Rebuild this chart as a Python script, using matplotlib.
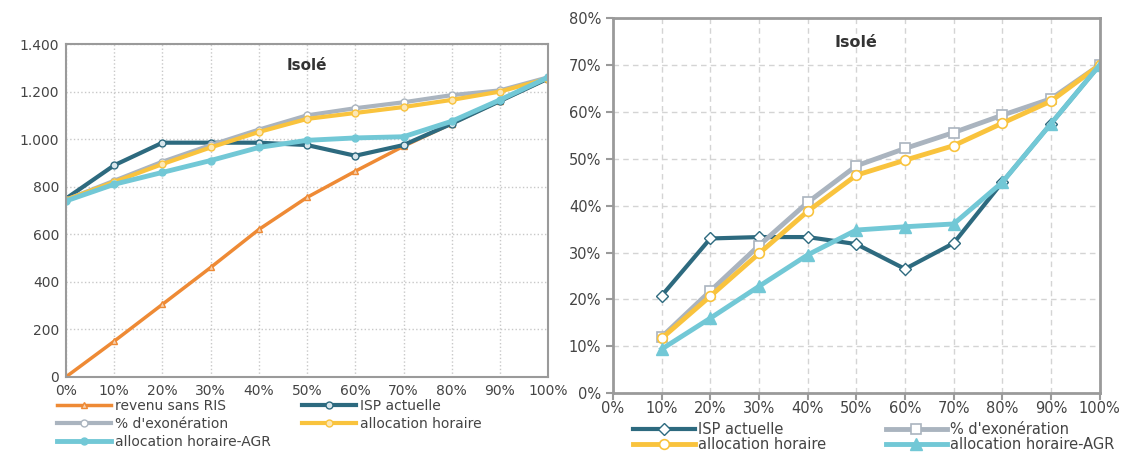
#! /usr/bin/env python3

import matplotlib
matplotlib.use('Agg')
import matplotlib.pyplot as plt

# left chart: monthly income (EUR) by work share
X_LEFT = [0, 10, 20, 30, 40, 50, 60, 70, 80, 90, 100]
REVENU_SANS_RIS = [0, 150, 305, 460, 620, 755, 865, 970, 1065, 1160, 1255]
ISP_ACTUELLE_L = [750, 890, 985, 985, 985, 975, 930, 975, 1065, 1160, 1255]
EXONERATION_L = [745, 825, 905, 975, 1040, 1100, 1130, 1155, 1185, 1205, 1260]
ALLOC_HORAIRE_L = [745, 820, 895, 965, 1030, 1085, 1110, 1135, 1165, 1200, 1255]
ALLOC_AGR_L = [740, 810, 860, 910, 965, 995, 1005, 1010, 1075, 1165, 1260]
Y_TICKS_LEFT = [0, 200, 400, 600, 800, 1000, 1200, 1400]
Y_LABELS_LEFT = ['0', '200', '400', '600', '800', '1.000', '1.200', '1.400']

# right chart: share of gain (%) by work share
X_RIGHT = [10, 20, 30, 40, 50, 60, 70, 80, 90, 100]
ISP_ACTUELLE_R = [20.8, 33.0, 33.3, 33.3, 31.8, 26.5, 32.0, 45.0, 57.5, 70.0]
EXONERATION_R = [12.0, 21.8, 31.5, 40.7, 48.5, 52.2, 55.6, 59.3, 62.8, 70.0]
ALLOC_HORAIRE_R = [11.7, 20.7, 29.8, 38.8, 46.5, 49.7, 52.8, 57.6, 62.3, 70.0]
ALLOC_AGR_R = [9.4, 16.0, 22.8, 29.5, 34.8, 35.5, 36.1, 45.0, 57.5, 70.0]

X_TICKS = list(range(0, 101, 10))
X_LABELS = ['%d%%' % v for v in X_TICKS]

ORANGE = '#ee8a35'
TEAL = '#2d6a7f'
GREY = '#aab4bf'
YELLOW = '#f9c33d'
CYAN = '#72c8d6'
FRAME = '#9a9a9a'
TXT = '#444444'

plt.rcParams['font.family'] = ['DejaVu Sans']

fig = plt.figure(figsize=(11.29, 4.54), dpi=100)

# ---- left ----
ax1 = fig.add_axes([0.0585, 0.170, 0.427, 0.733])
l_rev, = ax1.plot(X_LEFT, REVENU_SANS_RIS, color=ORANGE, lw=2.5, marker='^', ms=5,
                  mfc='#f6d0ae', mec=ORANGE, label='revenu sans RIS')
l_isp, = ax1.plot(X_LEFT, ISP_ACTUELLE_L, color=TEAL, lw=3, marker='o', ms=5,
                  mfc='#d8e6ec', mec=TEAL, label='ISP actuelle')
l_exo, = ax1.plot(X_LEFT, EXONERATION_L, color=GREY, lw=3, marker='o', ms=5,
                  mfc='white', mec=GREY, label="% d'exonération")
l_alh, = ax1.plot(X_LEFT, ALLOC_HORAIRE_L, color=YELLOW, lw=3, marker='o', ms=5,
                  mfc='#fce7b5', mec=YELLOW, label='allocation horaire')
l_agr, = ax1.plot(X_LEFT, ALLOC_AGR_L, color=CYAN, lw=3.5, marker='o', ms=5,
                  mfc=CYAN, mec=CYAN, label='allocation horaire-AGR')
ax1.set_xlim(0, 100)
ax1.set_ylim(0, 1400)
ax1.set_xticks(X_TICKS)
ax1.set_xticklabels(X_LABELS)
ax1.set_yticks(Y_TICKS_LEFT)
ax1.set_yticklabels(Y_LABELS_LEFT)
ax1.grid(True, ls=':', color='#c8c8c8', lw=1)
ax1.set_axisbelow(True)
ax1.text(50, 1310, 'Isolé', ha='center', va='center', fontsize=11,
         fontweight='bold', color='#333333')
ax1.tick_params(length=0, labelsize=10, colors=TXT, pad=5)
for s in ax1.spines.values():
    s.set_color(FRAME)
    s.set_linewidth(1.5)
# column-major fill, so reorder to read row by row
hl = [l_rev, l_exo, l_agr, l_isp, l_alh]
ax1.legend(handles=hl, labels=[h.get_label() for h in hl],
           loc='upper left', bbox_to_anchor=(-0.03, -0.05), ncol=2,
           frameon=False, fontsize=10, handlelength=3.9, handletextpad=0.3,
           columnspacing=2.2, labelspacing=0.3, labelcolor=TXT,
           borderaxespad=0)

# ---- right ----
ax2 = fig.add_axes([0.543, 0.134, 0.431, 0.826])
r_isp, = ax2.plot(X_RIGHT, ISP_ACTUELLE_R, color=TEAL, lw=3, marker='D', ms=6,
                  mfc='white', mec=TEAL, mew=1, label='ISP actuelle')
r_exo, = ax2.plot(X_RIGHT, EXONERATION_R, color=GREY, lw=3.5, marker='s', ms=7,
                  mfc='white', mec=GREY, mew=1.2, label="% d'exonération")
r_alh, = ax2.plot(X_RIGHT, ALLOC_HORAIRE_R, color=YELLOW, lw=3.5, marker='o', ms=7,
                  mfc='white', mec=YELLOW, mew=1.2, label='allocation horaire')
r_agr, = ax2.plot(X_RIGHT, ALLOC_AGR_R, color=CYAN, lw=3.5, marker='^', ms=8,
                  mfc=CYAN, mec=CYAN, label='allocation horaire-AGR')
ax2.set_xlim(0, 100)
ax2.set_ylim(0, 80)
ax2.set_xticks(X_TICKS)
ax2.set_xticklabels(X_LABELS)
ax2.set_yticks(range(0, 81, 10))
ax2.set_yticklabels(['%d%%' % v for v in range(0, 81, 10)])
ax2.grid(True, ls=(0, (4, 3)), color='#d4d4d4', lw=1)
ax2.set_axisbelow(True)
ax2.text(50, 74.8, 'Isolé', ha='center', va='center', fontsize=11.5,
         fontweight='bold', color='#333333')
ax2.tick_params(axis='both', length=5, width=1.5, color=FRAME, labelsize=10.5,
                labelcolor=TXT)
ax2.tick_params(axis='x', pad=1)
for s in ax2.spines.values():
    s.set_color(FRAME)
    s.set_linewidth(2)
hr = [r_isp, r_alh, r_exo, r_agr]
ax2.legend(handles=hr, labels=[h.get_label() for h in hr],
           loc='upper left', bbox_to_anchor=(0.03, -0.062), ncol=2,
           frameon=False, fontsize=10.5, handlelength=4.2, handletextpad=0.2,
           columnspacing=4.1, labelspacing=0.0, labelcolor=TXT,
           borderaxespad=0)

fig.savefig('out.png', dpi=100)
